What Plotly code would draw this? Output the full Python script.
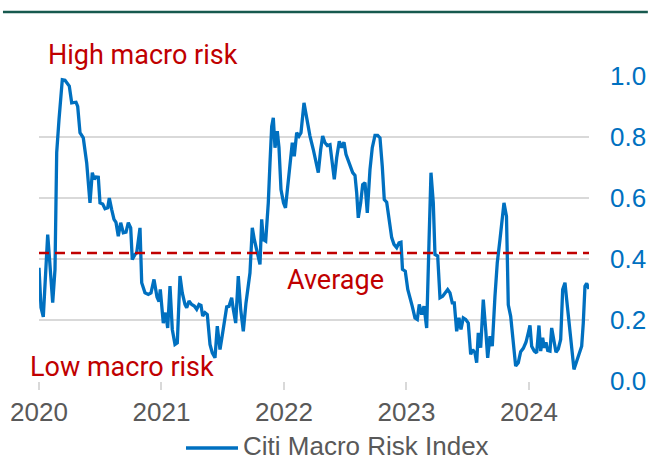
import plotly.graph_objects as go

# Time in decimal years, index values
years = [
    2020.0000, 2020.0163, 2020.0351, 2020.0710, 2020.0841, 2020.1118, 2020.1306, 2020.1445,
    2020.1633, 2020.1902, 2020.2122, 2020.2473, 2020.2669, 2020.3020, 2020.3159, 2020.3347,
    2020.3616, 2020.3894, 2020.4163, 2020.4351, 2020.4514, 2020.4653, 2020.4841, 2020.4980,
    2020.5200, 2020.5388, 2020.5608, 2020.5739, 2020.5935, 2020.6122, 2020.6286, 2020.6473,
    2020.6669, 2020.6882, 2020.7102, 2020.7290, 2020.7486, 2020.7616, 2020.7837, 2020.7976,
    2020.8245, 2020.8384, 2020.8653, 2020.8922, 2020.9143, 2020.9388, 2020.9633, 2020.9796,
    2020.9902, 2021.0016, 2021.0147, 2021.0343, 2021.0506, 2021.0694, 2021.0882, 2021.1102,
    2021.1290, 2021.1510, 2021.1698, 2021.1918, 2021.2057, 2021.2245, 2021.2465, 2021.2678,
    2021.2873, 2021.3061, 2021.3224, 2021.3363, 2021.3551, 2021.3739, 2021.3959, 2021.4147,
    2021.4367, 2021.4555, 2021.4776, 2021.4996, 2021.5184, 2021.5322, 2021.5510, 2021.5731,
    2021.5861, 2021.6057, 2021.6269, 2021.6465, 2021.6678, 2021.6898, 2021.7224, 2021.7412,
    2021.7576, 2021.7771, 2021.8041, 2021.8180, 2021.8310, 2021.8506, 2021.8718, 2021.8857,
    2021.8996, 2021.9127, 2021.9265, 2021.9453, 2021.9592, 2021.9755, 2021.9959, 2022.0122,
    2022.0269, 2022.0490, 2022.0678, 2022.0841, 2022.1037, 2022.1224, 2022.1388, 2022.1633,
    2022.1853, 2022.2122, 2022.2392, 2022.2612, 2022.2800, 2022.2996, 2022.3159, 2022.3347,
    2022.3535, 2022.3755, 2022.3943, 2022.4106, 2022.4302, 2022.4514, 2022.4710, 2022.4898,
    2022.5061, 2022.5249, 2022.5445, 2022.5608, 2022.5796, 2022.5935, 2022.6065, 2022.6261,
    2022.6424, 2022.6612, 2022.6800, 2022.7020, 2022.7208, 2022.7429, 2022.7649, 2022.7837,
    2022.8024, 2022.8188, 2022.8384, 2022.8596, 2022.8792, 2022.8980, 2022.9200, 2022.9388,
    2022.9551, 2022.9673, 2022.9902, 2023.0106, 2023.0286, 2023.0473, 2023.0694, 2023.0882,
    2023.1045, 2023.1241, 2023.1429, 2023.1649, 2023.1837, 2023.2000, 2023.2188, 2023.2327,
    2023.2547, 2023.2735, 2023.2955, 2023.3143, 2023.3363, 2023.3551, 2023.3739, 2023.3902,
    2023.4098, 2023.4286, 2023.4449, 2023.4637, 2023.4833, 2023.5045, 2023.5241, 2023.5404,
    2023.5592, 2023.5731, 2023.5861, 2023.6057, 2023.6269, 2023.6465, 2023.6629, 2023.6816,
    2023.7004, 2023.7224, 2023.7412, 2023.7633, 2023.7820, 2023.7959, 2023.8163, 2023.8310,
    2023.8506, 2023.8718, 2023.8914, 2023.9127, 2023.9322, 2023.9535, 2023.9755, 2023.9943,
    2024.0082, 2024.0220, 2024.0433, 2024.0629, 2024.0816, 2024.0955, 2024.1118, 2024.1249,
    2024.1388, 2024.1527, 2024.1714, 2024.1853, 2024.2041, 2024.2204, 2024.2392, 2024.2588,
    2024.2751, 2024.2939, 2024.3078, 2024.3290, 2024.3486, 2024.3673, 2024.3894, 2024.4106,
    2024.4302, 2024.4433, 2024.4571, 2024.4710, 2024.4898,
]
risk_index = [
    0.371, 0.241, 0.210, 0.480, 0.410, 0.257, 0.366, 0.749,
    0.857, 0.988, 0.986, 0.967, 0.912, 0.914, 0.900, 0.814,
    0.797, 0.715, 0.584, 0.683, 0.661, 0.669, 0.668, 0.584,
    0.580, 0.565, 0.568, 0.600, 0.562, 0.530, 0.520, 0.475,
    0.519, 0.486, 0.488, 0.519, 0.502, 0.398, 0.415, 0.420,
    0.502, 0.322, 0.289, 0.284, 0.289, 0.333, 0.275, 0.260,
    0.300, 0.256, 0.190, 0.224, 0.174, 0.311, 0.169, 0.120,
    0.125, 0.344, 0.289, 0.251, 0.240, 0.262, 0.251, 0.246,
    0.235, 0.251, 0.248, 0.213, 0.224, 0.218, 0.120, 0.092,
    0.076, 0.180, 0.103, 0.158, 0.202, 0.243, 0.245, 0.273,
    0.235, 0.190, 0.344, 0.235, 0.163, 0.256, 0.355, 0.502,
    0.464, 0.426, 0.382, 0.530, 0.464, 0.459, 0.584, 0.715,
    0.835, 0.863, 0.765, 0.819, 0.765, 0.628, 0.584, 0.568,
    0.628, 0.704, 0.781, 0.737, 0.814, 0.803, 0.814, 0.912,
    0.857, 0.803, 0.759, 0.715, 0.683, 0.759, 0.803, 0.781,
    0.772, 0.775, 0.715, 0.661, 0.732, 0.786, 0.765, 0.783,
    0.743, 0.721, 0.700, 0.683, 0.674, 0.617, 0.535, 0.584,
    0.644, 0.650, 0.551, 0.693, 0.765, 0.805, 0.805, 0.797,
    0.704, 0.595, 0.586, 0.519, 0.470, 0.448, 0.437, 0.453,
    0.455, 0.366, 0.360, 0.300, 0.267, 0.245, 0.207, 0.202,
    0.251, 0.218, 0.245, 0.174, 0.453, 0.683, 0.584, 0.415,
    0.410, 0.273, 0.278, 0.289, 0.300, 0.289, 0.256, 0.256,
    0.163, 0.207, 0.169, 0.207, 0.202, 0.190, 0.087, 0.103,
    0.092, 0.060, 0.158, 0.109, 0.267, 0.169, 0.076, 0.147,
    0.114, 0.278, 0.388, 0.464, 0.530, 0.584, 0.540, 0.250,
    0.212, 0.125, 0.049, 0.060, 0.096, 0.107, 0.127, 0.158,
    0.182, 0.114, 0.098, 0.092, 0.182, 0.098, 0.142, 0.109,
    0.127, 0.100, 0.098, 0.174, 0.136, 0.094, 0.105, 0.136,
    0.300, 0.322, 0.267, 0.180, 0.092, 0.038, 0.065, 0.092,
    0.114, 0.190, 0.311, 0.320, 0.302,
]
average_value = 0.42
year_ticks = [2020, 2021, 2022, 2023, 2024]
year_labels = ["2020", "2021", "2022", "2023", "2024"]
y_ticks = [0.0, 0.2, 0.4, 0.6, 0.8, 1.0]
y_labels = ["0.0", "0.2", "0.4", "0.6", "0.8", "1.0"]
series_name = "Citi Macro Risk Index"

BLUE = "#0070c0"
RED = "#c00000"
GRAY = "#595959"
GRID = "#d9d9d9"
RED_FONT = "Roboto, DejaVu Sans, sans-serif"
AX_FONT = "Liberation Sans, Arial, sans-serif"

fig = go.Figure()
fig.add_trace(go.Scatter(
    x=years, y=risk_index, mode="lines", name=series_name,
    line=dict(color=BLUE, width=3.3), showlegend=False,
))

# average dashed line
fig.add_shape(type="line", xref="paper", yref="y", x0=0, x1=1,
              y0=average_value, y1=average_value,
              line=dict(color=RED, width=2.5, dash="10px,6px"))

# top dark rule
fig.add_shape(type="line", xref="paper", yref="paper", x0=-0.0655, x1=1.107,
              y0=1.21, y1=1.21, line=dict(color="#17594e", width=2.5))

# manual legend
fig.add_shape(type="line", xref="paper", yref="paper",
              x0=(186 - 39) / 550, x1=(238 - 39) / 550,
              y0=(381 - 448) / 305, y1=(381 - 448) / 305,
              line=dict(color=BLUE, width=3.5))
fig.add_annotation(text=series_name, xref="paper", yref="paper",
                   x=(241 - 39) / 550, y=(381 - 446) / 305,
                   xanchor="left", yanchor="middle", showarrow=False,
                   height=22, valign="middle",
                   font=dict(family=AX_FONT, size=26, color=GRAY))

for txt, px, py in [("High macro risk", 46, 55), ("Low macro risk", 28, 367), ("Average", 285, 280)]:
    fig.add_annotation(text=txt, xref="paper", yref="paper",
                       x=(px - 39) / 550, y=(381 - py) / 305,
                       xanchor="left", yanchor="middle", showarrow=False,
                       font=dict(family=RED_FONT, size=27, color=RED))

fig.update_layout(
    width=648, height=461,
    margin=dict(l=39, r=59, t=76, b=80, autoexpand=False),
    paper_bgcolor="white", plot_bgcolor="white",
    xaxis=dict(range=[2020, 2024.49], tickvals=year_ticks, ticktext=year_labels,
               showgrid=False, zeroline=False, showline=False,
               ticks="outside", ticklen=8, tickwidth=1.5, tickcolor=GRID,
               tickfont=dict(family=AX_FONT, size=26, color=GRAY),
               automargin=False),
    yaxis=dict(range=[0, 1.0], side="right", tickvals=y_ticks, ticktext=y_labels,
               showgrid=True, gridcolor=GRID, gridwidth=1.5, zeroline=False,
               showline=False, ticks="", ticklabelstandoff=20,
               tickfont=dict(family=AX_FONT, size=26, color=BLUE),
               automargin=False),
)

fig.write_html("out.html", config={"displayModeBar": False},
               post_script="document.body.style.margin='0';document.body.style.overflow='hidden';")
